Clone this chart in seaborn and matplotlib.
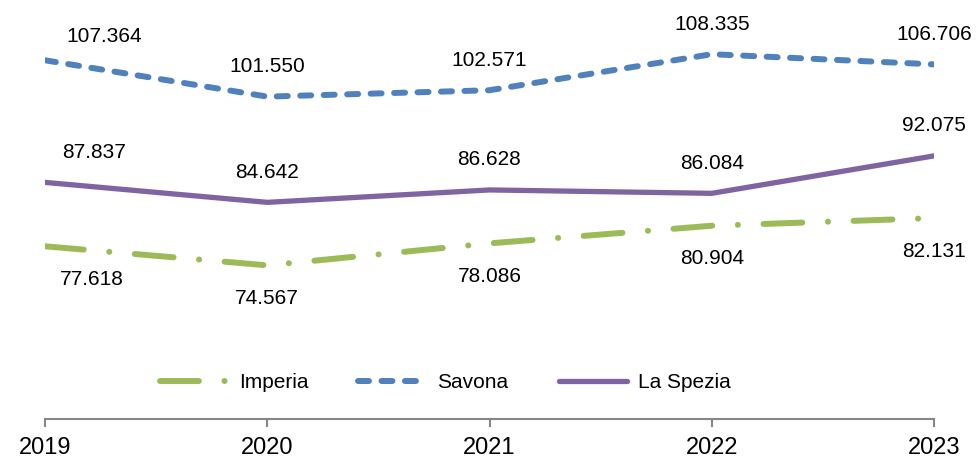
import matplotlib
matplotlib.use('Agg')
import matplotlib.pyplot as plt
import seaborn as sns
import pandas as pd

# --- Dati ---
anni = [2019, 2020, 2021, 2022, 2023]
imperia = [77.618, 74.567, 78.086, 80.904, 82.131]
savona = [107.364, 101.550, 102.571, 108.335, 106.706]
la_spezia = [87.837, 84.642, 86.628, 86.084, 92.075]

serie = ['Imperia', 'Savona', 'La Spezia']
colori = {'Imperia': '#9BBB59', 'Savona': '#4F81BD', 'La Spezia': '#8064A2'}
spessori = {'Imperia': 4.3, 'Savona': 4.3, 'La Spezia': 3.8}
# tratteggi in punti (non scalati con lo spessore)
tratti = {'Imperia': (0, (28, 18.4, 0.1, 18.4)), 'Savona': (0, (7.9, 9)), 'La Spezia': None}
# posizione etichette: sopra (-) o sotto (+), in pixel
offset_y = {'Imperia': 33, 'Savona': -30, 'La Spezia': -30}
# spostamento delle etichette del primo anno
offset_primo = {'Imperia': (47, 0), 'Savona': (59, 6), 'La Spezia': (49, 0)}

df = pd.DataFrame({
    'anno': anni * 3,
    'valore': imperia + savona + la_spezia,
    'provincia': [s for s in serie for _ in anni],
})

sns.set_style('white')
plt.rcParams['font.family'] = ['Liberation Sans', 'DejaVu Sans']
plt.rcParams['lines.scale_dashes'] = False
plt.rcParams['text.color'] = 'black'
plt.rcParams['xtick.color'] = 'black'

fig = plt.figure(figsize=(9.77, 4.59), dpi=100)
ax = fig.add_axes([45 / 977, 40 / 459, (934 - 45) / 977, 419 / 459])

for s in serie:
    d = df[df['provincia'] == s]
    sns.lineplot(data=d, x='anno', y='valore', color=colori[s], linewidth=spessori[s],
                 label=s, ax=ax)
    line = ax.lines[-1]
    line.set_solid_capstyle('round')
    line.set_dash_capstyle('round')
    if tratti[s] is not None:
        line.set_linestyle(tratti[s])
    for i, (x, v) in enumerate(zip(d['anno'], d['valore'])):
        dx, dy = offset_primo[s] if i == 0 else (0, 0)
        ax.annotate(f'{v:.3f}', (x, v), xytext=(dx, -(offset_y[s] + dy)),
                    textcoords='offset pixels', ha='center', va='center',
                    fontsize=15, color='black')

ax.set_xlim(2019, 2023)
ax.set_ylim(50, 117)
ax.set_xticks(anni)
ax.set_xticklabels([str(a) for a in anni])
ax.set_yticks([])
ax.set_xlabel('')
ax.set_ylabel('')
for sp in ['top', 'right', 'left']:
    ax.spines[sp].set_visible(False)
ax.spines['bottom'].set_color('#868686')
ax.spines['bottom'].set_linewidth(1.5)
ax.tick_params(axis='x', direction='out', length=6, width=1.5, color='#868686',
               labelcolor='black', labelsize=17, pad=7, bottom=True)

leg = ax.legend(loc='center', bbox_to_anchor=(445 / 977, 1 - 383 / 459),
                bbox_transform=fig.transFigure, ncol=3, frameon=False,
                fontsize=15, handlelength=3.3, handletextpad=0.5, columnspacing=2.4)
for t in leg.get_texts():
    t.set_color('black')

fig.savefig('out.png', dpi=100)
